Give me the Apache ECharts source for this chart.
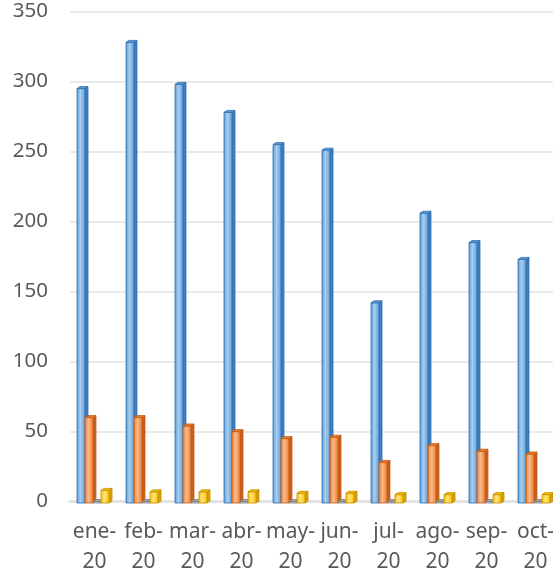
<!DOCTYPE html>
<html>
<head>
<meta charset="utf-8">
<script src="https://cdn.jsdelivr.net/npm/echarts@6/dist/echarts.min.js"></script>
<style>
  html, body { margin: 0; padding: 0; background: #fff; }
  #chart { width: 553px; height: 577px; }
</style>
</head>
<body>
<div id="chart"></div>
<script>
const categories = ["ene-20", "feb-20", "mar-20", "abr-20", "may-20", "jun-20", "jul-20", "ago-20", "sep-20", "oct-20"];
const serie1 = [296, 329, 299, 279, 256, 252, 143, 207, 186, 174];
const serie2 = [61, 61, 55, 51, 46, 47, 29, 41, 37, 35];
const serie3 = [1, 1, 1, 1, 1, 1, 1, 1, 1, 1];
const serie4 = [9, 8, 8, 8, 7, 7, 6, 6, 6, 6];
const yTicks = { min: 0, max: 350, step: 50 };

// front / light / side / edge colours per series
const looks = [
  { front: "#5b9bd5", light: "#a9cdef", side: "#3f7fc0", edge: "#2e6fb0" },
  { front: "#ed7d31", light: "#f8b98a", side: "#c8611c", edge: "#c55a11" },
  { front: "#a5a5a5", light: "#c9c9c9", side: "#8a8a8a", edge: "#7f7f7f" },
  { front: "#ffc000", light: "#ffe27a", side: "#d9a300", edge: "#bf9000" },
];

function prism(params, api) {
  const si = params.seriesIndex;
  const look = looks[si];
  const base = api.coord([api.value(0), 0]);
  const top = api.coord([api.value(0), api.value(1)]);
  const w = 8, d = 3, rise = 2, drop = 1.5;
  const x0 = base[0] - 17.5 + si * 8;
  const yb = base[1] + drop;
  const yt = Math.min(top[1] + drop, yb - 1.5);
  const grad = new echarts.graphic.LinearGradient(0, 0, 1, 0, [
    { offset: 0, color: look.front },
    { offset: 0.45, color: look.light },
    { offset: 1, color: look.front },
  ]);
  return {
    type: "group",
    children: [
      {
        type: "polygon",
        shape: { points: [[x0 + w, yt], [x0 + w + d, yt - rise], [x0 + w + d, yb - rise], [x0 + w, yb]] },
        style: { fill: look.side, stroke: look.edge, lineWidth: 0.8 },
      },
      {
        type: "rect",
        shape: { x: x0, y: yt, width: w, height: yb - yt },
        style: { fill: grad, stroke: look.edge, lineWidth: 0.8 },
      },
      {
        type: "polygon",
        shape: { points: [[x0, yt], [x0 + d, yt - rise], [x0 + w + d, yt - rise], [x0 + w, yt]] },
        style: { fill: look.front, stroke: look.edge, lineWidth: 0.8 },
      },
    ],
  };
}

function makeSeries(name, values) {
  return {
    name: name,
    type: "custom",
    renderItem: prism,
    encode: { x: 0, y: 1 },
    data: values.map((v, i) => [i, v]),
  };
}

const chart = echarts.init(document.getElementById("chart"));
chart.setOption({
  backgroundColor: "#fff",
  animation: false,
  grid: { left: 70, right: -7, top: 11.5, bottom: 75.5, outerBoundsMode: "none", containLabel: false },
  xAxis: {
    type: "category",
    data: categories,
    axisTick: { show: false },
    axisLine: { show: true, lineStyle: { color: "#e3e3e3", width: 3 } },
    axisLabel: {
      interval: 0,
      margin: 16,
      color: "#595959",
      fontSize: 21,
      lineHeight: 30,
      fontFamily: "Noto Sans",
      formatter: (v) => v.replace("-", "-\n"),
    },
  },
  yAxis: {
    type: "value",
    min: yTicks.min,
    max: yTicks.max,
    interval: yTicks.step,
    axisLine: { show: false },
    axisTick: { show: false },
    axisLabel: { color: "#595959", fontSize: 20.5, fontFamily: "Noto Sans", margin: 22 },
    splitLine: { lineStyle: { color: "#e3e3e3", width: 1.5 } },
  },
  series: [
    makeSeries("Serie1", serie1),
    makeSeries("Serie2", serie2),
    makeSeries("Serie3", serie3),
    makeSeries("Serie4", serie4),
  ],
});
</script>
</body>
</html>
